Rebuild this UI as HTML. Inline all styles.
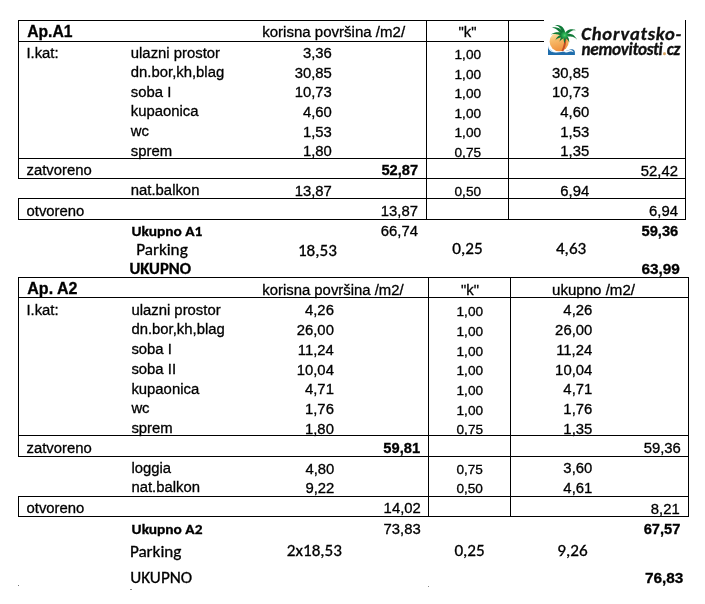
<!DOCTYPE html>
<html><head><meta charset="utf-8"><title>Ap. A1 / A2</title>
<style>
html,body{margin:0;padding:0;background:#fff;}
body{width:705px;height:604px;overflow:hidden;}
svg{display:block;}
text{fill:#000;stroke:#000;stroke-width:0.3px;}
.a{font-family:"Liberation Sans", Arial, sans-serif;}
.ab{font-family:"Liberation Sans", Arial, sans-serif;font-weight:bold;}
.c{font-family:Carlito, Calibri, "Liberation Sans", sans-serif;}
.cb{font-family:Carlito, Calibri, "Liberation Sans", sans-serif;font-weight:bold;}
.cbi{font-family:Carlito, Calibri, "Liberation Sans", sans-serif;font-weight:bold;font-style:italic;fill:#111;}
</style></head>
<body>
<svg width="705" height="604" viewBox="0 0 705 604">
<rect width="705" height="604" fill="#fff"/>
<g fill="#000">
<rect x="18" y="20" width="668" height="1"/>
<rect x="18" y="41" width="668" height="1"/>
<rect x="18" y="158" width="668" height="1"/>
<rect x="18" y="178" width="668" height="1"/>
<rect x="18" y="198" width="668" height="1"/>
<rect x="18" y="219" width="668" height="1"/>
<rect x="18" y="20" width="1" height="159"/>
<rect x="18" y="198" width="1" height="22"/>
<rect x="426" y="20" width="1" height="200"/>
<rect x="508" y="20" width="1" height="200"/>
<rect x="685" y="20" width="1" height="200"/>
<text class="ab" x="27.2" y="37.0" font-size="15.7">Ap.A1</text>
<text class="a" x="262.2" y="37.0" font-size="14.8" transform="matrix(1.017 0 0 1 -4.457 0)">korisna površina /m2/</text>
<text class="a" x="467.5" y="37.3" font-size="14.8" text-anchor="middle" transform="matrix(1.005 0 0 1 -2.337 0)">"k"</text>
<text class="a" x="26.4" y="57.6" font-size="14.8" transform="matrix(1.005 0 0 1 -0.132 0)">I.kat:</text>
<text class="a" x="130.8" y="57.6" font-size="14.8" transform="matrix(1.005 0 0 1 -0.654 0)">ulazni prostor</text>
<text class="a" x="331.8" y="58.3" font-size="14.5" text-anchor="end" transform="matrix(1.025 0 0 1 -8.295 0)">3,36</text>
<text class="a" x="467.8" y="59.0" font-size="13.3" text-anchor="middle" transform="matrix(1.025 0 0 1 -11.695 0)">1,00</text>
<text class="a" x="589.2" y="58.3" font-size="14.5" text-anchor="end" transform="matrix(1.025 0 0 1 -14.73 0)">3,36</text>
<text class="a" x="130.8" y="77.2" font-size="14.8" transform="matrix(1.005 0 0 1 -0.654 0)">dn.bor,kh,blag</text>
<text class="a" x="331.8" y="77.9" font-size="14.5" text-anchor="end" transform="matrix(1.025 0 0 1 -8.295 0)">30,85</text>
<text class="a" x="467.8" y="78.6" font-size="13.3" text-anchor="middle" transform="matrix(1.025 0 0 1 -11.695 0)">1,00</text>
<text class="a" x="589.2" y="77.9" font-size="14.5" text-anchor="end" transform="matrix(1.025 0 0 1 -14.73 0)">30,85</text>
<text class="a" x="130.8" y="96.8" font-size="14.8" transform="matrix(1.005 0 0 1 -0.654 0)">soba I</text>
<text class="a" x="331.8" y="97.5" font-size="14.5" text-anchor="end" transform="matrix(1.025 0 0 1 -8.295 0)">10,73</text>
<text class="a" x="467.8" y="98.2" font-size="13.3" text-anchor="middle" transform="matrix(1.025 0 0 1 -11.695 0)">1,00</text>
<text class="a" x="589.2" y="97.5" font-size="14.5" text-anchor="end" transform="matrix(1.025 0 0 1 -14.73 0)">10,73</text>
<text class="a" x="130.8" y="116.4" font-size="14.8" transform="matrix(1.005 0 0 1 -0.654 0)">kupaonica</text>
<text class="a" x="331.8" y="117.1" font-size="14.5" text-anchor="end" transform="matrix(1.025 0 0 1 -8.295 0)">4,60</text>
<text class="a" x="467.8" y="117.8" font-size="13.3" text-anchor="middle" transform="matrix(1.025 0 0 1 -11.695 0)">1,00</text>
<text class="a" x="589.2" y="117.1" font-size="14.5" text-anchor="end" transform="matrix(1.025 0 0 1 -14.73 0)">4,60</text>
<text class="a" x="130.8" y="136.0" font-size="14.8" transform="matrix(1.005 0 0 1 -0.654 0)">wc</text>
<text class="a" x="331.8" y="136.7" font-size="14.5" text-anchor="end" transform="matrix(1.025 0 0 1 -8.295 0)">1,53</text>
<text class="a" x="467.8" y="137.4" font-size="13.3" text-anchor="middle" transform="matrix(1.025 0 0 1 -11.695 0)">1,00</text>
<text class="a" x="589.2" y="136.7" font-size="14.5" text-anchor="end" transform="matrix(1.025 0 0 1 -14.73 0)">1,53</text>
<text class="a" x="130.8" y="155.6" font-size="14.8" transform="matrix(1.005 0 0 1 -0.654 0)">sprem</text>
<text class="a" x="331.8" y="156.3" font-size="14.5" text-anchor="end" transform="matrix(1.025 0 0 1 -8.295 0)">1,80</text>
<text class="a" x="467.8" y="157.0" font-size="13.3" text-anchor="middle" transform="matrix(1.025 0 0 1 -11.695 0)">0,75</text>
<text class="a" x="589.2" y="156.3" font-size="14.5" text-anchor="end" transform="matrix(1.025 0 0 1 -14.73 0)">1,35</text>
<text class="a" x="26.5" y="175.2" font-size="14.8" transform="matrix(1.005 0 0 1 -0.132 0)">zatvoreno</text>
<text class="ab" x="418.2" y="175.0" font-size="14.7" text-anchor="end">52,87</text>
<text class="a" x="678" y="175.7" font-size="14.5" text-anchor="end" transform="matrix(1.025 0 0 1 -16.95 0)">52,42</text>
<text class="a" x="130.8" y="195.4" font-size="14.8" transform="matrix(1.005 0 0 1 -0.654 0)">nat.balkon</text>
<text class="a" x="331.8" y="196.1" font-size="14.5" text-anchor="end" transform="matrix(1.025 0 0 1 -8.295 0)">13,87</text>
<text class="a" x="467.8" y="196.4" font-size="13.3" text-anchor="middle" transform="matrix(1.025 0 0 1 -11.695 0)">0,50</text>
<text class="a" x="589.2" y="195.9" font-size="14.5" text-anchor="end" transform="matrix(1.025 0 0 1 -14.73 0)">6,94</text>
<text class="a" x="26.5" y="215.6" font-size="14.8" transform="matrix(1.005 0 0 1 -0.132 0)">otvoreno</text>
<text class="a" x="418" y="216.3" font-size="14.5" text-anchor="end" transform="matrix(1.025 0 0 1 -10.45 0)">13,87</text>
<text class="a" x="678" y="215.6" font-size="14.5" text-anchor="end" transform="matrix(1.025 0 0 1 -16.95 0)">6,94</text>
<text class="cb" x="131.4" y="235.8" font-size="14" transform="matrix(1.1 0 0 1 -13.14 0)">Ukupno A1</text>
<text class="a" x="418" y="236.3" font-size="14.5" text-anchor="end" transform="matrix(1.025 0 0 1 -10.45 0)">66,74</text>
<text class="ab" x="678.3" y="235.7" font-size="14.7" text-anchor="end">59,36</text>
<text class="c" x="136.2" y="255.2" font-size="16.5" transform="matrix(1.04 0 0 1 -5.448 0)">Parking</text>
<text class="c" x="337" y="255.6" font-size="16.5" text-anchor="end" transform="matrix(1.04 0 0 1 -13.48 0)">18,53</text>
<text class="c" x="467.5" y="254.2" font-size="16.5" text-anchor="middle" transform="matrix(1.04 0 0 1 -18.7 0)">0,25</text>
<text class="c" x="586.3" y="254.2" font-size="16.5" text-anchor="end" transform="matrix(1.04 0 0 1 -23.452 0)">4,63</text>
<text class="cb" x="129.4" y="274.1" font-size="15.3" transform="matrix(1.087 0 0 1 -11.258 0)">UKUPNO</text>
<text class="ab" x="679.9" y="273.9" font-size="15.4" text-anchor="end">63,99</text>
<rect x="18" y="277" width="671" height="1"/>
<rect x="18" y="297" width="671" height="1"/>
<rect x="18" y="435" width="671" height="1"/>
<rect x="18" y="456" width="671" height="1"/>
<rect x="18" y="496" width="671" height="1"/>
<rect x="18" y="516" width="671" height="1"/>
<rect x="18" y="277" width="1" height="180"/>
<rect x="18" y="496" width="1" height="21"/>
<rect x="428" y="277" width="1" height="240"/>
<rect x="510" y="277" width="1" height="240"/>
<rect x="688" y="277" width="1" height="240"/>
<text class="ab" x="27.3" y="293.6" font-size="16">Ap. A2</text>
<text class="a" x="262.3" y="295.4" font-size="14.8" transform="matrix(1.005 0 0 1 -1.311 0)">korisna površina /m2/</text>
<text class="a" x="470" y="295.2" font-size="14.8" text-anchor="middle" transform="matrix(1.005 0 0 1 -2.35 0)">"k"</text>
<text class="a" x="552.0" y="294.9" font-size="14.8" transform="matrix(1.02 0 0 1 -11.04 0)">ukupno /m2/</text>
<text class="a" x="26.4" y="314.7" font-size="14.8" transform="matrix(1.005 0 0 1 -0.132 0)">I.kat:</text>
<text class="a" x="131.4" y="314.7" font-size="14.8" transform="matrix(1.005 0 0 1 -0.657 0)">ulazni prostor</text>
<text class="a" x="333.9" y="315.4" font-size="14.5" text-anchor="end" transform="matrix(1.025 0 0 1 -8.347 0)">4,26</text>
<text class="a" x="469.8" y="316.1" font-size="13.3" text-anchor="middle" transform="matrix(1.025 0 0 1 -11.745 0)">1,00</text>
<text class="a" x="592.3" y="315.4" font-size="14.5" text-anchor="end" transform="matrix(1.025 0 0 1 -14.807 0)">4,26</text>
<text class="a" x="131.4" y="334.42" font-size="14.8" transform="matrix(1.005 0 0 1 -0.657 0)">dn.bor,kh,blag</text>
<text class="a" x="333.9" y="335.12" font-size="14.5" text-anchor="end" transform="matrix(1.025 0 0 1 -8.347 0)">26,00</text>
<text class="a" x="469.8" y="335.82" font-size="13.3" text-anchor="middle" transform="matrix(1.025 0 0 1 -11.745 0)">1,00</text>
<text class="a" x="592.3" y="335.12" font-size="14.5" text-anchor="end" transform="matrix(1.025 0 0 1 -14.807 0)">26,00</text>
<text class="a" x="131.4" y="354.14" font-size="14.8" transform="matrix(1.005 0 0 1 -0.657 0)">soba I</text>
<text class="a" x="333.9" y="354.84" font-size="14.5" text-anchor="end" transform="matrix(1.025 0 0 1 -8.347 0)">11,24</text>
<text class="a" x="469.8" y="355.54" font-size="13.3" text-anchor="middle" transform="matrix(1.025 0 0 1 -11.745 0)">1,00</text>
<text class="a" x="592.3" y="354.84" font-size="14.5" text-anchor="end" transform="matrix(1.025 0 0 1 -14.807 0)">11,24</text>
<text class="a" x="131.4" y="373.86" font-size="14.8" transform="matrix(1.005 0 0 1 -0.657 0)">soba II</text>
<text class="a" x="333.9" y="374.56" font-size="14.5" text-anchor="end" transform="matrix(1.025 0 0 1 -8.347 0)">10,04</text>
<text class="a" x="469.8" y="375.26" font-size="13.3" text-anchor="middle" transform="matrix(1.025 0 0 1 -11.745 0)">1,00</text>
<text class="a" x="592.3" y="374.56" font-size="14.5" text-anchor="end" transform="matrix(1.025 0 0 1 -14.807 0)">10,04</text>
<text class="a" x="131.4" y="393.58" font-size="14.8" transform="matrix(1.005 0 0 1 -0.657 0)">kupaonica</text>
<text class="a" x="333.9" y="394.28" font-size="14.5" text-anchor="end" transform="matrix(1.025 0 0 1 -8.347 0)">4,71</text>
<text class="a" x="469.8" y="394.98" font-size="13.3" text-anchor="middle" transform="matrix(1.025 0 0 1 -11.745 0)">1,00</text>
<text class="a" x="592.3" y="394.28" font-size="14.5" text-anchor="end" transform="matrix(1.025 0 0 1 -14.807 0)">4,71</text>
<text class="a" x="131.4" y="413.3" font-size="14.8" transform="matrix(1.005 0 0 1 -0.657 0)">wc</text>
<text class="a" x="333.9" y="414.0" font-size="14.5" text-anchor="end" transform="matrix(1.025 0 0 1 -8.347 0)">1,76</text>
<text class="a" x="469.8" y="414.7" font-size="13.3" text-anchor="middle" transform="matrix(1.025 0 0 1 -11.745 0)">1,00</text>
<text class="a" x="592.3" y="414.0" font-size="14.5" text-anchor="end" transform="matrix(1.025 0 0 1 -14.807 0)">1,76</text>
<text class="a" x="131.4" y="433.02" font-size="14.8" transform="matrix(1.005 0 0 1 -0.657 0)">sprem</text>
<text class="a" x="333.9" y="433.72" font-size="14.5" text-anchor="end" transform="matrix(1.025 0 0 1 -8.347 0)">1,80</text>
<text class="a" x="469.8" y="434.42" font-size="13.3" text-anchor="middle" transform="matrix(1.025 0 0 1 -11.745 0)">0,75</text>
<text class="a" x="592.3" y="433.72" font-size="14.5" text-anchor="end" transform="matrix(1.025 0 0 1 -14.807 0)">1,35</text>
<text class="a" x="26.5" y="453.3" font-size="14.8" transform="matrix(1.005 0 0 1 -0.132 0)">zatvoreno</text>
<text class="ab" x="420.1" y="452.8" font-size="14.7" text-anchor="end">59,81</text>
<text class="a" x="680.8" y="453.1" font-size="14.5" text-anchor="end" transform="matrix(1.025 0 0 1 -17.02 0)">59,36</text>
<text class="a" x="131.4" y="472.6" font-size="14.8" transform="matrix(1.005 0 0 1 -0.657 0)">loggia</text>
<text class="a" x="334.3" y="473.8" font-size="14.5" text-anchor="end" transform="matrix(1.025 0 0 1 -8.357 0)">4,80</text>
<text class="a" x="469.7" y="474.4" font-size="13.3" text-anchor="middle" transform="matrix(1.025 0 0 1 -11.742 0)">0,75</text>
<text class="a" x="592.3" y="473.0" font-size="14.5" text-anchor="end" transform="matrix(1.025 0 0 1 -14.807 0)">3,60</text>
<text class="a" x="131.4" y="492.4" font-size="14.8" transform="matrix(1.005 0 0 1 -0.657 0)">nat.balkon</text>
<text class="a" x="334.3" y="493.1" font-size="14.5" text-anchor="end" transform="matrix(1.025 0 0 1 -8.357 0)">9,22</text>
<text class="a" x="469.7" y="493.4" font-size="13.3" text-anchor="middle" transform="matrix(1.025 0 0 1 -11.742 0)">0,50</text>
<text class="a" x="592.3" y="492.9" font-size="14.5" text-anchor="end" transform="matrix(1.025 0 0 1 -14.807 0)">4,61</text>
<text class="a" x="26.5" y="512.6" font-size="14.8" transform="matrix(1.005 0 0 1 -0.132 0)">otvoreno</text>
<text class="a" x="420.8" y="513.2" font-size="14.5" text-anchor="end" transform="matrix(1.025 0 0 1 -10.52 0)">14,02</text>
<text class="a" x="679.7" y="513.8" font-size="14.5" text-anchor="end" transform="matrix(1.025 0 0 1 -16.992 0)">8,21</text>
<text class="cb" x="131.6" y="534.0" font-size="14" transform="matrix(1.1 0 0 1 -13.16 0)">Ukupno A2</text>
<text class="a" x="420.7" y="534.3" font-size="14.5" text-anchor="end" transform="matrix(1.025 0 0 1 -10.517 0)">73,83</text>
<text class="ab" x="680.4" y="533.9" font-size="14.7" text-anchor="end">67,57</text>
<text class="c" x="129.9" y="557.5" font-size="16.5" transform="matrix(1.04 0 0 1 -5.196 0)">Parking</text>
<text class="c" x="342" y="556.3" font-size="16.5" text-anchor="end" transform="matrix(1.04 0 0 1 -13.68 0)">2x18,53</text>
<text class="c" x="469.6" y="556.4" font-size="16.5" text-anchor="middle" transform="matrix(1.04 0 0 1 -18.784 0)">0,25</text>
<text class="c" x="587.7" y="556.4" font-size="16.5" text-anchor="end" transform="matrix(1.04 0 0 1 -23.508 0)">9,26</text>
<text class="c" x="130.2" y="583.1" font-size="16.5" transform="matrix(1.04 0 0 1 -5.208 0)">UKUPNO</text>
<text class="ab" x="683.4" y="582.5" font-size="15.4" text-anchor="end">76,83</text>
<rect x="18" y="585" width="1" height="1" fill="#777"/>
<rect x="130" y="589" width="2" height="1" fill="#888"/>
<rect x="428" y="586" width="1" height="1" fill="#888"/>
</g>

<rect x="544" y="19" width="141" height="44" fill="#fff"/>
<rect x="685" y="20" width="1" height="43" fill="#000"/>
<defs>
 <linearGradient id="sun" x1="0.3" y1="0" x2="0.55" y2="1">
  <stop offset="0" stop-color="#fde6b0"/>
  <stop offset="0.4" stop-color="#f7bb6a"/>
  <stop offset="1" stop-color="#ef8f3a"/>
 </linearGradient>
 <radialGradient id="crown" cx="0.5" cy="0.5" r="0.5">
  <stop offset="0" stop-color="#3fd068"/>
  <stop offset="1" stop-color="#3fd068" stop-opacity="0"/>
 </radialGradient>
</defs>
<g transform="translate(545,22)">
 <circle cx="14.2" cy="19.6" r="9.6" fill="url(#sun)"/>
 <path d="M19.2 14 C19.8 19 18.8 24 16.4 29 L18.4 29.2 C20.8 24.4 21.7 19 21.2 14 Z" fill="#c44e27"/>
 <g fill="#0f7a37">
<path d="M20.37 12.30 L20.20 10.89 L19.93 9.56 L19.54 8.33 L19.03 7.19 L18.39 6.17 L17.64 5.29 L16.79 4.54 L15.85 3.96 L14.86 3.53 L13.83 3.24 L12.78 3.09 L11.71 3.04 L10.62 3.08 L9.50 3.20 L9.50 3.20 L10.60 3.36 L11.61 3.64 L12.51 4.03 L13.30 4.51 L13.99 5.06 L14.59 5.66 L15.11 6.31 L15.60 6.99 L16.05 7.73 L16.50 8.53 L16.95 9.42 L17.39 10.40 L17.82 11.50 L18.23 12.70 Z"/>
<path d="M19.88 12.36 L19.10 11.11 L18.28 9.96 L17.42 8.92 L16.51 8.00 L15.55 7.21 L14.55 6.55 L13.52 6.03 L12.47 5.64 L11.43 5.39 L10.40 5.26 L9.41 5.25 L8.44 5.32 L7.51 5.48 L6.60 5.70 L6.60 5.70 L7.52 5.76 L8.40 5.93 L9.24 6.22 L10.04 6.59 L10.81 7.04 L11.55 7.56 L12.28 8.12 L13.02 8.74 L13.78 9.40 L14.57 10.11 L15.40 10.89 L16.27 11.73 L17.18 12.64 L18.12 13.64 Z"/>
<path d="M19.29 12.66 L18.34 11.98 L17.36 11.40 L16.35 10.93 L15.33 10.56 L14.29 10.32 L13.25 10.19 L12.23 10.19 L11.22 10.30 L10.24 10.50 L9.29 10.80 L8.38 11.17 L7.50 11.60 L6.64 12.08 L5.80 12.60 L5.80 12.60 L6.74 12.31 L7.67 12.12 L8.59 12.03 L9.49 12.02 L10.37 12.08 L11.23 12.20 L12.07 12.36 L12.91 12.56 L13.75 12.78 L14.60 13.02 L15.47 13.30 L16.38 13.60 L17.33 13.94 L18.31 14.34 Z"/>
<path d="M19.09 13.03 L18.25 12.85 L17.41 12.77 L16.58 12.78 L15.77 12.90 L14.99 13.13 L14.25 13.45 L13.56 13.88 L12.94 14.38 L12.37 14.95 L11.86 15.57 L11.40 16.23 L10.98 16.93 L10.58 17.65 L10.20 18.40 L10.20 18.40 L10.78 17.80 L11.39 17.29 L12.03 16.86 L12.67 16.51 L13.30 16.23 L13.93 16.00 L14.54 15.82 L15.13 15.67 L15.72 15.54 L16.31 15.41 L16.91 15.29 L17.54 15.17 L18.20 15.06 L18.91 14.97 Z"/>
<path d="M18.95 13.47 L18.44 13.58 L17.94 13.76 L17.46 14.00 L17.02 14.31 L16.61 14.69 L16.24 15.12 L15.92 15.61 L15.65 16.13 L15.40 16.69 L15.18 17.28 L14.99 17.88 L14.79 18.51 L14.60 19.15 L14.40 19.80 L14.40 19.80 L14.81 19.26 L15.23 18.76 L15.68 18.31 L16.13 17.91 L16.58 17.56 L17.01 17.24 L17.43 16.94 L17.81 16.67 L18.17 16.42 L18.50 16.16 L18.80 15.91 L19.09 15.65 L19.37 15.39 L19.65 15.13 Z"/>
<path d="M18.70 14.36 L18.61 14.81 L18.53 15.27 L18.48 15.73 L18.46 16.21 L18.48 16.70 L18.52 17.20 L18.60 17.72 L18.69 18.26 L18.80 18.81 L18.91 19.38 L19.01 19.96 L19.10 20.56 L19.17 21.18 L19.20 21.80 L19.20 21.80 L19.40 21.21 L19.61 20.62 L19.83 20.05 L20.05 19.49 L20.25 18.93 L20.44 18.38 L20.60 17.83 L20.73 17.29 L20.80 16.75 L20.83 16.23 L20.81 15.71 L20.75 15.21 L20.64 14.72 L20.50 14.24 Z"/>
<path d="M19.64 15.03 L19.93 15.30 L20.20 15.57 L20.48 15.85 L20.76 16.12 L21.07 16.41 L21.40 16.72 L21.76 17.06 L22.15 17.43 L22.55 17.86 L22.95 18.33 L23.35 18.86 L23.73 19.45 L24.08 20.10 L24.40 20.80 L24.40 20.80 L24.30 20.03 L24.21 19.28 L24.11 18.56 L23.99 17.87 L23.85 17.19 L23.67 16.55 L23.44 15.94 L23.15 15.38 L22.81 14.87 L22.40 14.42 L21.95 14.04 L21.44 13.73 L20.91 13.51 L20.36 13.37 Z"/>
<path d="M20.46 14.58 L21.52 14.47 L22.50 14.41 L23.42 14.40 L24.29 14.42 L25.11 14.47 L25.89 14.55 L26.67 14.67 L27.45 14.83 L28.23 15.07 L29.01 15.39 L29.80 15.82 L30.57 16.36 L31.31 17.02 L32.00 17.80 L32.00 17.80 L31.51 16.86 L30.99 15.98 L30.42 15.15 L29.79 14.38 L29.09 13.67 L28.30 13.05 L27.43 12.53 L26.48 12.14 L25.47 11.88 L24.41 11.75 L23.31 11.78 L22.20 11.93 L21.07 12.22 L19.94 12.62 Z"/>
<path d="M20.79 13.43 L21.58 12.70 L22.33 12.04 L23.05 11.45 L23.73 10.91 L24.39 10.42 L25.02 9.96 L25.64 9.54 L26.27 9.15 L26.93 8.81 L27.62 8.52 L28.35 8.30 L29.13 8.16 L29.95 8.13 L30.80 8.20 L30.80 8.20 L30.00 7.87 L29.19 7.59 L28.35 7.38 L27.48 7.24 L26.59 7.20 L25.68 7.27 L24.76 7.46 L23.85 7.78 L22.96 8.22 L22.11 8.80 L21.31 9.49 L20.56 10.28 L19.86 11.18 L19.21 12.17 Z"/>
 </g>
 <circle cx="19.6" cy="13.2" r="4.2" fill="url(#crown)"/>
 <path d="M3 23.4 C3.1 27.8 5.8 30.3 10.4 30.4 C14.5 30.5 18 29.9 20.8 29 C23 28.2 25 27 27.4 27.2 C29.2 27.5 30 29 29.9 30.6 L29.9 32.9 C20 33.1 11 33 3 32.9 Z" fill="#1f6dac"/>
 <path d="M4.2 24.5 C4.6 27.3 6.2 28.9 8.6 29.5 C6.3 29.6 4.6 28.2 4.2 24.5 Z" fill="#5fb6e6"/>
 <path d="M17.5 29.6 C20.5 29.2 23 27.8 25.5 27.9 C27.3 28 28.3 29 28.6 30.2 C27.4 29.3 25.8 29.2 24.2 29.8 C22 30.6 19.8 30.6 17.5 29.6 Z" fill="#ffffff"/>
</g>
<text class="cbi" x="581.3" y="39.5" font-size="18.6" letter-spacing="0.78">Chorvatsko-</text>
<text class="cbi" x="581.6" y="55" font-size="17.2" letter-spacing="-0.3">nemovitosti<tspan fill="#d8a25c" stroke="#d8a25c">.</tspan>cz</text>

</svg>
</body></html>
